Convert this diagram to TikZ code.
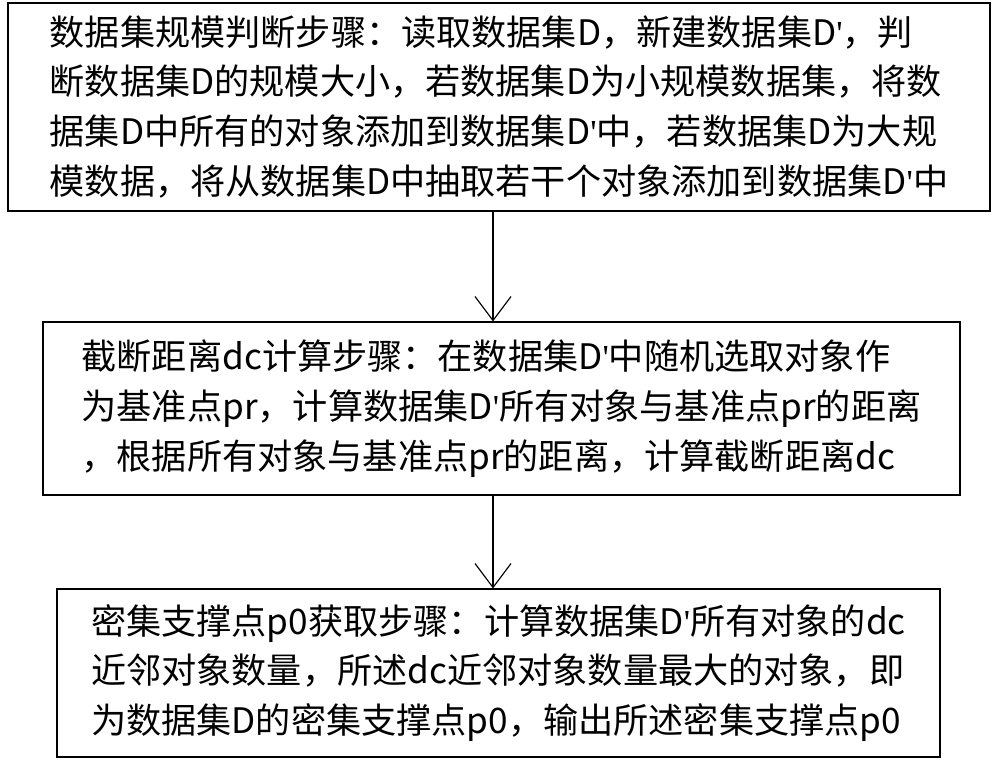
\documentclass[tikz,border=0pt]{standalone}
\usepackage{fontspec}
\setmainfont{Noto Sans CJK SC}
\newfontfamily\latinfont{Liberation Serif}
\newcommand\prm{{\latinfont\symbol{39}}}
\usetikzlibrary{arrows.meta}
\begin{document}
\begin{tikzpicture}
    [
      x=0.025cm, y=-0.025cm,
      stepbox/.style={draw=black,thick,rectangle,inner sep=0pt,align=left,
        font=\fontsize{25}{35.5}\selectfont},
      flow/.style={-{Straight Barb[length=6mm,width=9mm]},thick,draw=black}
    ]
    \useasboundingbox (0,0) rectangle (1000,762);

    \node at (499,107) [stepbox,minimum width=982*0.025cm,minimum height=208*0.025cm] (judge) {%
      数据集规模判断步骤：读取数据集D，新建数据集D\prm，判\\
      断数据集D的规模大小，若数据集D为小规模数据集，将数\\
      据集D中所有的对象添加到数据集D\prm 中，若数据集D为大规\\
      模数据，将从数据集D中抽取若干个对象添加到数据集D\prm 中};
    \node at (501.5,408.5) [stepbox,minimum width=917*0.025cm,minimum height=173*0.025cm] (cutoff) {%
      截断距离dc计算步骤：在数据集D\prm 中随机选取对象作\\
      为基准点pr，计算数据集D\prm 所有对象与基准点pr的距离\\
      ，根据所有对象与基准点pr的距离，计算截断距离dc};
    \node at (498.5,673) [stepbox,minimum width=883*0.025cm,minimum height=168*0.025cm] (dense) {%
      密集支撑点p0获取步骤：计算数据集D\prm 所有对象的dc\\
      近邻对象数量，所述dc近邻对象数量最大的对象，即\\
      为数据集D的密集支撑点p0，输出所述密集支撑点p0};

    \draw [flow] (judge.south -| 493,0) -- (cutoff.north -| 493,0);
    \draw [flow] (cutoff.south -| 493,0) -- (dense.north -| 493,0);
\end{tikzpicture}
\end{document}
